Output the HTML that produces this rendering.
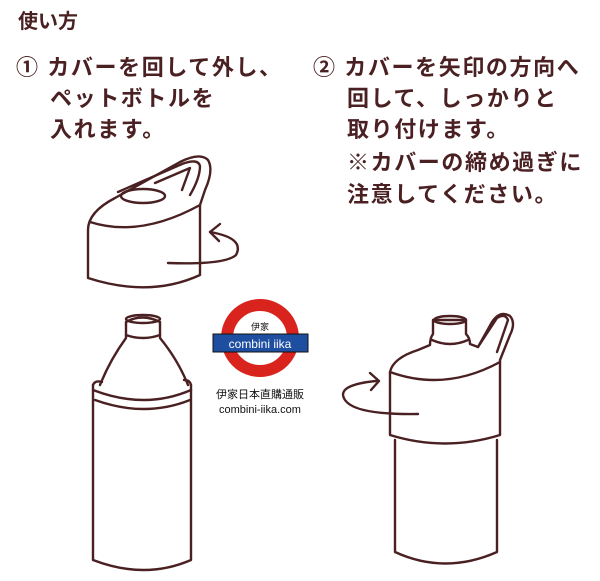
<!DOCTYPE html>
<html><head><meta charset="utf-8"><style>
body{margin:0;background:#fff;}
svg{display:block}
text{font-family:"Liberation Sans","Noto Sans CJK JP",sans-serif;fill:#4a2022;font-weight:bold}
</style></head><body>
<svg width="600" height="581" viewBox="0 0 600 581">
<text x="18" y="28" font-size="20">使い方</text>
<g font-size="22" letter-spacing="1.6">
<text x="16" y="75">① カバーを回して外し、</text>
<text x="50" y="106">ペットボトルを</text>
<text x="50" y="137">入れます。</text>
<text x="313" y="75">② カバーを矢印の方向へ</text>
<text x="347" y="106">回して、しっかりと</text>
<text x="347" y="137">取り付けます。</text>
<text x="347" y="170">※カバーの締め過ぎに</text>
<text x="347" y="202">注意してください。</text>
</g>
<g fill="none" stroke="#4a2022" stroke-width="2.4" stroke-linecap="round" stroke-linejoin="round">
<!-- left cap -->
<path d="M88 230 Q88 212 115 198 L180 162 Q200 152 208 160 Q214 170 205 190 L200 205 L200 275 Q150 298 88 278 Z"/>
<path d="M90 222 Q140 238 200 205"/>
<path d="M118 192 Q150 178 182 164 Q198 158 200 166 Q200 178 190 195"/>
<path d="M155 183 L190 168 L182 190"/>
<ellipse cx="143" cy="196" rx="22" ry="7"/>
<path d="M210 232 Q245 238 236 255 Q225 265 168 263"/>
<path d="M220 224 L210 232 L219 241"/>
<!-- left bottle -->
<path d="M93 385 L93 560 Q145 580 191 560 L191 385"/>
<path d="M93 385 Q95 380 102 382"/>
<path d="M191 385 Q190 380 184 380"/>
<path d="M93 390 Q145 410 191 390"/>
<path d="M95 400 Q145 418 190 400"/>
<path d="M100 385 Q110 360 126 338 L126 322 Q142 313 160 322 L160 338 Q178 360 188 385"/>
<ellipse cx="143" cy="319" rx="17" ry="4"/>
<path d="M126 335 Q143 341 160 335"/>
<!-- right bottle -->
<path d="M390 372 Q393 358 418 350 L430 345 Q430 338 433 334 L433 320 L466 320 L466 334 Q470 338 470 344 L478 347 L492 322 Q500 310 510 316 Q516 323 510 335 L500 360 L500 435 Q445 452 390 435 Z"/>
<path d="M390 372 Q445 392 500 362"/>
<path d="M432 340 Q450 348 468 340"/>
<ellipse cx="450" cy="320" rx="16" ry="4"/>
<path d="M478 347 L497 318 Q505 313 508 320 L497 352"/>
<path d="M395 440 L395 552 Q445 575 497 552 L497 440"/>
<path d="M376 381 Q335 385 345 400 Q355 415 418 414"/>
<path d="M370 373 L379 381 L371 390"/>
</g>
<!-- logo -->
<rect x="205" y="290" width="110" height="130" fill="#fff"/>
<circle cx="260" cy="338" r="33" fill="none" stroke="#d9231d" stroke-width="12"/>
<rect x="213" y="334" width="95" height="18" fill="#1e4ea0" stroke="#111" stroke-width="1"/>
<text x="260" y="330" font-size="9" text-anchor="middle" style="fill:#111;font-weight:normal">伊家</text>
<text x="260" y="348" font-size="12" text-anchor="middle" style="fill:#fff;font-weight:normal">combini iika</text>
<text x="260" y="398" font-size="11" text-anchor="middle" style="fill:#111;font-weight:normal">伊家日本直購通販</text>
<text x="260" y="413" font-size="11" text-anchor="middle" style="fill:#111;font-weight:normal">combini-iika.com</text>
</svg>
</body></html>
